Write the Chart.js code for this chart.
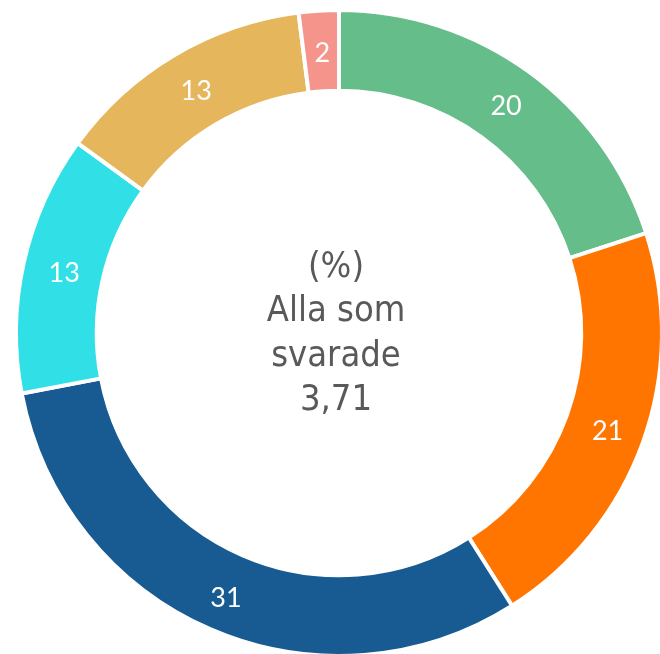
<!DOCTYPE html>
<html>
<head>
<meta charset="utf-8">
<script src="https://cdn.jsdelivr.net/npm/chart.js@4/dist/chart.umd.min.js"></script>
<style>
  html, body { margin: 0; padding: 0; background: #fff; overflow: hidden; width: 660px; height: 654px; }
  #wrap { position: absolute; left: 0; top: 0; width: 678px; height: 666px; }
</style>
</head>
<body>
<div id="wrap"><canvas id="chart"></canvas></div>
<script>
/* Doughnut: andel svar (%) */
const labels = ["A", "B", "C", "D", "E", "F"];
const values = [20, 21, 31, 13, 13, 2];
const colors = ["#65bd89", "#ff7500", "#175b92", "#30e0e6", "#e6b65c", "#f5948a"];
const centerLines = ["(%)", "Alla som", "svarade", "3,71"];

const sliceLabels = {
  id: "sliceLabels",
  afterDatasetsDraw(chart) {
    const ctx = chart.ctx;
    const meta = chart.getDatasetMeta(0);
    ctx.save();
    ctx.fillStyle = "#ffffff";
    ctx.font = "27px Lato, 'Open Sans', sans-serif";
    ctx.textAlign = "center";
    ctx.textBaseline = "middle";
    meta.data.forEach((arc, i) => {
      const p = arc.tooltipPosition();
      // labels sit a little further out on the lower half
      const dx = p.x - arc.x, dy = p.y - arc.y;
      const k = 1 + Math.max(dy, 0) / 282 * 0.018;
      ctx.fillText(String(values[i]), arc.x + dx * k + 1, arc.y + dy * k + 2);
    });
    ctx.restore();
  },
};

const centerText = {
  id: "centerText",
  afterDraw(chart) {
    const ctx = chart.ctx;
    const arc = chart.getDatasetMeta(0).data[0];
    const cx = arc.x, cy = arc.y;
    ctx.save();
    ctx.fillStyle = "#595959";
    ctx.font = "36px 'DejaVu Sans Condensed', 'DejaVu Sans', sans-serif";
    ctx.textAlign = "center";
    ctx.textBaseline = "middle";
    const lh = 44.5;
    const start = cy - lh * (centerLines.length - 1) / 2;
    centerLines.forEach((t, i) => ctx.fillText(t, cx - 3, start + i * lh + 1));
    ctx.restore();
  },
};

new Chart(document.getElementById("chart"), {
  type: "doughnut",
  data: {
    labels: labels,
    datasets: [{
      data: values,
      backgroundColor: colors,
      borderColor: "#ffffff",
      borderWidth: 4,
    }],
  },
  options: {
    responsive: true,
    maintainAspectRatio: false,
    animation: false,
    cutout: "75%",
    layout: { padding: 8 },
    plugins: { legend: { display: false }, tooltip: { enabled: false } },
  },
  plugins: [sliceLabels, centerText],
});
</script>
</body>
</html>
